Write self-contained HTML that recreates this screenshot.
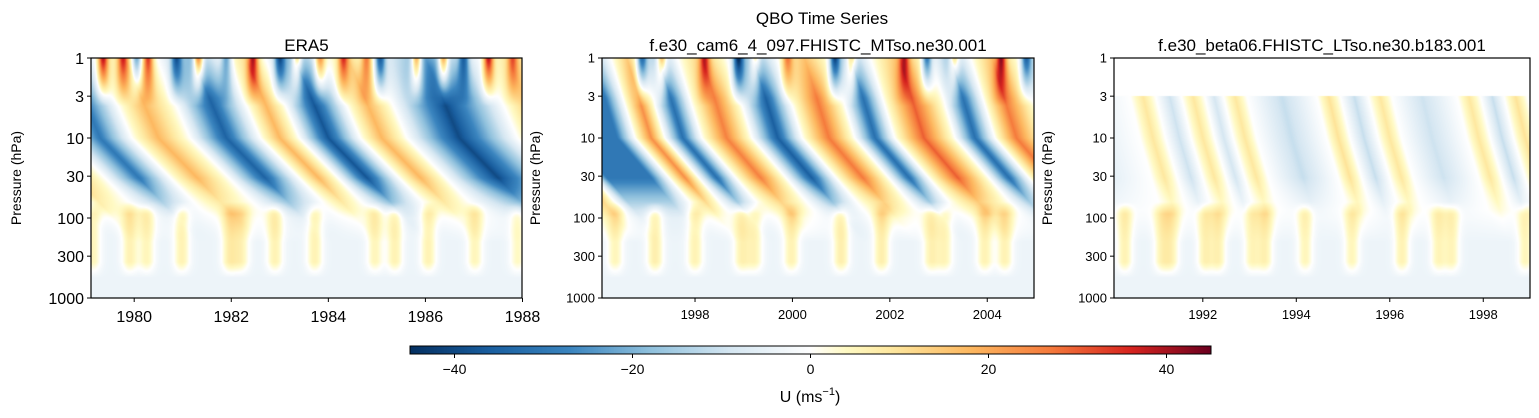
<!DOCTYPE html>
<html><head><meta charset="utf-8">
<style>
body{margin:0;background:#fff;width:1539px;height:418px;overflow:hidden;position:relative;font-family:"Liberation Sans","DejaVu Sans",sans-serif}
canvas{position:absolute}
svg{position:absolute;left:0;top:0}
</style></head><body>
<canvas id="c1" style="left:91px;top:58px" width="431" height="240"></canvas>
<canvas id="c2" style="left:602px;top:58px" width="432" height="240"></canvas>
<canvas id="c3" style="left:1114px;top:58px" width="416" height="240"></canvas>
<canvas id="cb" style="left:410px;top:346px" width="801" height="8"></canvas>
<svg id="ov" width="1539" height="418"></svg>
<script>
// ---------- DATA ----------
const era5QboYears = [1977.5,1978.0,1978.6,1979.3,1979.95,1980.5,1981.15,1981.9,1982.6,1983.0,1983.4,1984.0,1984.66,1985.1,1985.62,1986.7,1987.9,1988.4,1989.5];
const era5QboU     = [-20,15,0,-30,0,18,0,-35,0,18,0,-38,0,18,0,-40,0,15,15];
const era5SaoYears = [1979.36,1979.77,1980.05,1980.29,1980.87,1981.32,1981.9,1982.45,1983.0,1983.35,1983.83,1984.31,1984.79,1985.07,1985.82,1986.37,1986.79,1987.3,1987.8];
const era5SaoU     = [38,28,-28,32,-28,42,-22,34,-30,30,28,28,24,-34,38,36,-28,38,24];
const era5LowYears = [1979.15,1979.91,1980.26,1980.98,1981.97,1982.21,1982.9,1983.72,1984.96,1985.37,1986.06,1987.02,1987.9];
const era5LowU     = [9,10,9,10,11,9,10,10,9,10,10,9,8];
const camQboYears = [1995.0,1995.5,1996.4,1996.77,1997.1,1997.38,1997.75,1998.14,1998.65,1999.17,1999.7,2000.2,2000.75,2001.28,2001.7,2002.1,2002.7,2003.34,2003.75,2004.16,2004.6,2005.2,2005.6];
const camQboU     = [25,-30,-30,0,24,0,-32,0,26,0,-36,0,27,0,-32,0,30,0,-32,0,27,0,-25];
const camSaoYears = [1996.91,1997.31,1998.2,1998.89,1999.23,1999.9,2000.87,2001.21,2002.3,2002.76,2003.32,2004.29,2004.8];
const camSaoU     = [-32,32,25,-38,25,22,-38,28,25,-32,25,32,-32];
const camLowYears = [1996.36,1997.18,1998.0,1998.96,1999.23,1999.98,2001.0,2001.83,2002.85,2003.13,2003.95,2004.36];
const camLowU     = [9,11,10,10,9,10,11,11,10,9,10,10];
const betaQboYears = [1989.5,1990.65,1990.93,1991.2,1991.5,1991.75,1992.0,1992.25,1992.45,1992.65,1992.9,1993.15,1993.9,1994.65,1994.9,1995.15,1995.45,1995.75,1996.0,1996.25,1996.9,1997.65,1997.9,1998.15,1998.4,1998.65,1998.9,1999.15,1999.5];
const betaQboU     = [-8,0,9,0,-10,0,9,0,-9,0,9,0,-11,0,10,0,-11,0,9,0,-10,0,9,0,-11,0,10,0,-6];
const betaLowYears = [1990.33,1991.12,1991.33,1992.05,1992.33,1993.05,1993.33,1994.19,1995.19,1996.26,1997.04,1997.33,1998.9];
const betaLowU     = [10,9,9,10,10,9,10,9,9,10,9,9,9];
const era5Ticks = [1980,1982,1984,1986,1988];
const camTicks = [1998,2000,2002,2004];
const betaTicks = [1992,1994,1996,1998];
const pTicks = [1,3,10,30,100,300,1000];
const cbTicks = [-40,-20,0,20,40];

// ---------- COLORMAP ----------
const cmV=[-45,-36,-27,-18,-9,0,4,9,18,27,36,45];
const cmC=[[5,48,97],[26,95,160],[59,133,191],[144,193,221],[214,231,242],[255,255,255],[255,250,196],[254,232,160],[253,184,96],[245,122,60],[215,36,31],[107,0,32]];
function cmap(v){
  if(v<=cmV[0])return cmC[0];
  for(let i=1;i<cmV.length;i++){if(v<=cmV[i]){const f=(v-cmV[i-1])/(cmV[i]-cmV[i-1]);const a=cmC[i-1],b=cmC[i];return[a[0]+(b[0]-a[0])*f,a[1]+(b[1]-a[1])*f,a[2]+(b[2]-a[2])*f];}}
  return cmC[cmC.length-1];
}
function interp(xs,ys,x){
  if(x<=xs[0])return ys[0];
  for(let i=1;i<xs.length;i++){if(x<=xs[i]){const f=(x-xs[i-1])/(xs[i]-xs[i-1]);return ys[i-1]+(ys[i]-ys[i-1])*f;}}
  return ys[ys.length-1];
}
function spikes(xs,ys,t,s){let v=0;for(let i=0;i<xs.length;i++){const d=(t-xs[i])/s;v+=ys[i]*Math.exp(-d*d);}return v;}

const panels=[
 {id:'c1',x0:1979.11,x1:1987.99,qy:era5QboYears,qu:era5QboU,sy:era5SaoYears,su:era5SaoU,ly:era5LowYears,lu:era5LowU,dB:1.6,dA:0.7,top:1,ticks:era5Ticks,px:91,w:431,fs:16,name:'era5'},
 {id:'c2',x0:1996.09,x1:2004.96,qy:camQboYears,qu:camQboU,sy:camSaoYears,su:camSaoU,ly:camLowYears,lu:camLowU,dB:1.4,dA:0.5,top:1,ticks:camTicks,px:602,w:432,fs:13,name:'cam6'},
 {id:'c3',x0:1990.1,x1:1999.0,qy:betaQboYears,qu:betaQboU,sy:[],su:[],ly:betaLowYears,lu:betaLowU,dB:0.5,dA:0.4,top:3,ticks:betaTicks,px:1114,w:416,fs:13,name:'beta06'}
];
const H=240, PY=58;
function yOfP(p){return Math.log10(p)/3*H;}
function field(P,t,L){
  let lag = L>1 ? P.dB*(L-1) : P.dA*(L-1);
  let q = interp(P.qy,P.qu,t-lag);
  let A;
  if(L<0.5) A=0.6+0.4*(L/0.5);
  else if(L<=1.5) A=1;
  else if(L<=2.0) A=1-0.85*(L-1.5)/0.5;
  else if(L<=2.3) A=0.15*(1-(L-2)/0.3);
  else A=0;
  let u=A*q;
  if(L<0.6&&P.sy.length){const E=1-L/0.6;u+=E*spikes(P.sy,P.su,t,0.1+0.1*L);}
  if(L>1.8&&L<2.75){let e=L<1.95?(L-1.8)/0.15:(L>2.55?(2.75-L)/0.2:1);u+=e*spikes(P.ly,P.lu,t,0.17);}
  if(L>1.9){u+=-4*Math.min(1,(L-1.9)/0.4);}
  return u;
}
panels.forEach(P=>{
  const c=document.getElementById(P.id),ctx=c.getContext('2d');
  const W=c.width,img=ctx.createImageData(W,H);
  for(let j=0;j<H;j++){
    const L=(j+0.5)/H*3;
    for(let i=0;i<W;i++){
      const t=P.x0+(i+0.5)/W*(P.x1-P.x0);
      let col;
      if(Math.pow(10,L)<P.top) col=[255,255,255];
      else col=cmap(field(P,t,L));
      const k=(j*W+i)*4;img.data[k]=col[0];img.data[k+1]=col[1];img.data[k+2]=col[2];img.data[k+3]=255;
    }
  }
  ctx.putImageData(img,0,0);
});
(function(){
  const c=document.getElementById('cb'),ctx=c.getContext('2d');
  for(let i=0;i<c.width;i++){const v=-45+(i+0.5)/c.width*90;const col=cmap(v);ctx.fillStyle=`rgb(${col[0]|0},${col[1]|0},${col[2]|0})`;ctx.fillRect(i,0,1,8);}
})();

// ---------- OVERLAY ----------
const NS='http://www.w3.org/2000/svg';
const ov=document.getElementById('ov');
function mk(tag,attrs,text){const e=document.createElementNS(NS,tag);for(const k in attrs)e.setAttribute(k,attrs[k]);if(text!==undefined)e.textContent=text;ov.appendChild(e);return e;}
let e;
e=mk('text',{x:822,y:24,'text-anchor':'middle','font-size':17,fill:'#000'},'QBO Time Series');


const subt=['ERA5','f.e30_cam6_4_097.FHISTC_MTso.ne30.001','f.e30_beta06.FHISTC_LTso.ne30.b183.001'];
panels.forEach((P,pi)=>{
  e=mk('rect',{x:P.px,y:PY,width:P.w,height:H,fill:'none',stroke:'#000','stroke-width':1.2});
  
  
  e=mk('text',{x:P.px+P.w/2,y:51,'text-anchor':'middle','font-size':17,fill:'#000'},subt[pi]);
  
  
  pTicks.forEach(p=>{
    const y=PY+yOfP(p);
    e=mk('line',{x1:P.px-4,x2:P.px,y1:y,y2:y,stroke:'#000','stroke-width':1});
    
    
    e=mk('text',{x:P.px-7,y:y+P.fs*0.36,'text-anchor':'end','font-size':P.fs,fill:'#000'},String(p));
    
    
  });
  const ylx=P.px-(pi===0?70:62);
  e=mk('text',{x:ylx,y:PY+H/2,'text-anchor':'middle','font-size':14,fill:'#000',transform:`rotate(-90 ${ylx} ${PY+H/2})`},'Pressure (hPa)');
  
  
  P.ticks.forEach(yr=>{
    const x=P.px+(yr-P.x0)/(P.x1-P.x0)*P.w;
    e=mk('line',{x1:x,x2:x,y1:PY+H,y2:PY+H+4,stroke:'#000','stroke-width':1});
    
    
    e=mk('text',{x:x,y:PY+H+(pi===0?24:21),'text-anchor':'middle','font-size':P.fs,fill:'#000'},String(yr));
    
    
  });
});
e=mk('rect',{x:410,y:346,width:801,height:8,fill:'none',stroke:'#000','stroke-width':1});


cbTicks.forEach(v=>{
  const x=410+(v+45)/90*801;
  e=mk('line',{x1:x,x2:x,y1:354,y2:358,stroke:'#000','stroke-width':1});
  
  
  e=mk('text',{x:x,y:374,'text-anchor':'middle','font-size':14,fill:'#000'},v<0?'\u2212'+Math.abs(v):String(v));
  
  
});
e=mk('text',{x:810,y:402,'text-anchor':'middle','font-size':16,fill:'#000'});


e.innerHTML='U (ms<tspan dy="-7" font-size="11">\u22121</tspan><tspan dy="7">)</tspan>';
</script>
</body></html>
